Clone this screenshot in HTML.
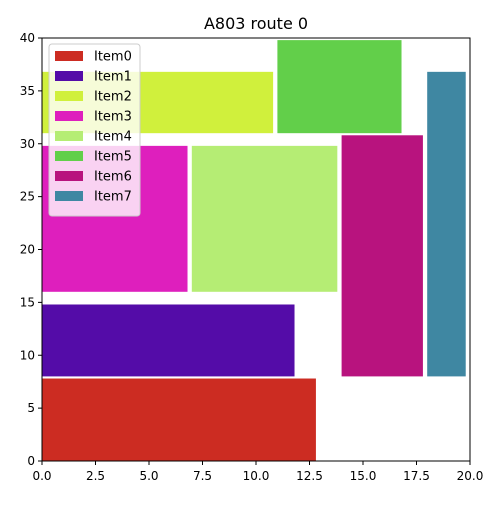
<!DOCTYPE html>
<html><head><meta charset="utf-8"><style>
body{margin:0;background:#fff;font-family:"Liberation Sans","DejaVu Sans",sans-serif}
svg text{font-family:"DejaVu Sans","Liberation Sans",sans-serif}
</style></head><body>
<svg id="chart" width="500" height="500" xmlns="http://www.w3.org/2000/svg">
<rect width="500" height="500" fill="#fff"/>
<text x="256" y="29" font-size="16" text-anchor="middle">A803 route 0</text>
<g id="rects"></g>
<rect x="42" y="38" width="428" height="423" fill="none" stroke="#000" stroke-width="1"/>
<g id="axes"></g>
<g id="legend"></g>
</svg>
<script>
const names=["Item0","Item1","Item2","Item3","Item4","Item5","Item6","Item7"];
const colors=["#cc2c22","#540ca8","#d0f03c","#de1fbd","#b5ed74","#62cf4a","#b8137e","#3f87a2"];
const x0s=[0,0,0,0,7,11,14,18];
const x1s=[12.8,11.8,10.8,6.8,13.8,16.8,17.8,19.8];
const y0s=[0,8,31,16,16,31,8,8];
const y1s=[7.8,14.8,36.8,29.8,29.8,39.8,30.8,36.8];
const xTicks=["0.0","2.5","5.0","7.5","10.0","12.5","15.0","17.5","20.0"];
const yTicks=["0","5","10","15","20","25","30","35","40"];
const NS="http://www.w3.org/2000/svg";
const X=v=>42+v*(428/20), Y=v=>461-v*(423/40);
const g=document.getElementById('rects');
for(let i=0;i<names.length;i++){
  const r=document.createElementNS(NS,'rect');
  r.setAttribute('x',X(x0s[i]));r.setAttribute('y',Y(y1s[i]));
  r.setAttribute('width',X(x1s[i])-X(x0s[i]));r.setAttribute('height',Y(y0s[i])-Y(y1s[i]));
  r.setAttribute('fill',colors[i]);
  
  
  g.appendChild(r);
}
const ax=document.getElementById('axes');
xTicks.forEach(t=>{const px=X(parseFloat(t));
  const l=document.createElementNS(NS,'line');l.setAttribute('x1',px);l.setAttribute('x2',px);l.setAttribute('y1',461);l.setAttribute('y2',465);l.setAttribute('stroke','#000');ax.appendChild(l);
  const tx=document.createElementNS(NS,'text');tx.setAttribute('x',px);tx.setAttribute('y',480);tx.setAttribute('font-size','12');tx.setAttribute('text-anchor','middle');tx.textContent=t;
  
  
  ax.appendChild(tx);});
yTicks.forEach(t=>{const py=Y(parseFloat(t));
  const l=document.createElementNS(NS,'line');l.setAttribute('x1',38);l.setAttribute('x2',42);l.setAttribute('y1',py);l.setAttribute('y2',py);l.setAttribute('stroke','#000');ax.appendChild(l);
  const tx=document.createElementNS(NS,'text');tx.setAttribute('x',35);tx.setAttribute('y',py+4);tx.setAttribute('font-size','12');tx.setAttribute('text-anchor','end');tx.textContent=t;
  
  
  ax.appendChild(tx);});
const lg=document.getElementById('legend');
const box=document.createElementNS(NS,'rect');
box.setAttribute('x',49);box.setAttribute('y',44);box.setAttribute('width',91);box.setAttribute('height',172);box.setAttribute('rx',3);
box.setAttribute('fill','rgba(255,255,255,0.8)');box.setAttribute('stroke','#ccc');


lg.appendChild(box);
names.forEach((n,i)=>{const cy=56+i*20;
  const s=document.createElementNS(NS,'rect');s.setAttribute('x',55);s.setAttribute('y',cy-5);s.setAttribute('width',28);s.setAttribute('height',10);s.setAttribute('fill',colors[i]);
  
  
  lg.appendChild(s);
  const t=document.createElementNS(NS,'text');t.setAttribute('x',94);t.setAttribute('y',cy+4.5);t.setAttribute('font-size','13');t.textContent=n;
  
  
  lg.appendChild(t);});
</script>
</body></html>
